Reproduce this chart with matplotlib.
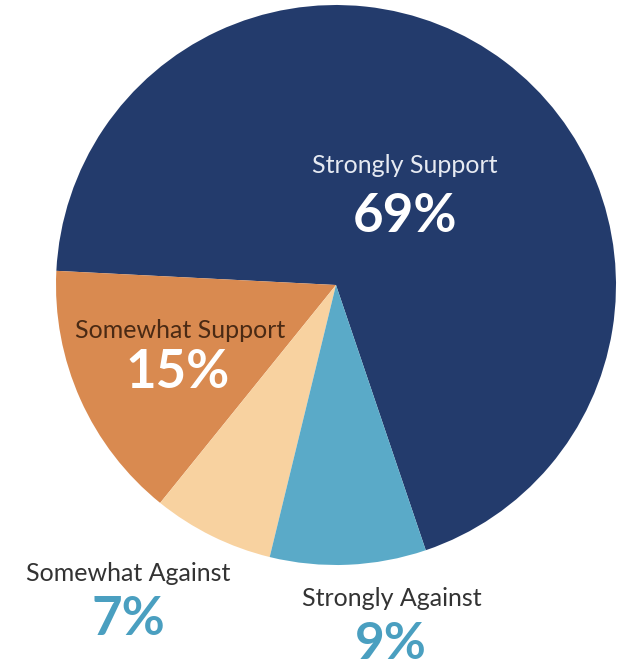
import matplotlib.pyplot as plt

labels = ["Strongly Support", "Somewhat Support", "Somewhat Against", "Strongly Against"]
values = [69, 15, 7, 9]
colors = ["#233b6c", "#d98a50", "#f8d2a0", "#5aaac8"]

plt.rcParams['font.family'] = ['Lato', 'DejaVu Sans']

fig = plt.figure(figsize=(6.24, 6.67), dpi=100)
ax = fig.add_axes([0, 0, 1, 1])

ax.pie(values, colors=colors, startangle=-71.3, counterclock=True,
       center=(336, 382), radius=280, frame=True,
       wedgeprops=dict(linewidth=0))
ax.set_xlim(0, 624)
ax.set_ylim(0, 667)
ax.axis('off')

# labels inside the pie
ax.text(405, 494, labels[0], color="#e6eaf2", fontsize=18, ha='center', va='baseline')
ax.text(405, 435, f"{values[0]}%", color="white", fontsize=38, fontweight='bold',
        ha='center', va='baseline')
ax.text(180, 329, labels[1], color="#4a2a14", fontsize=18, ha='center', va='baseline')
ax.text(178, 279, f"{values[1]}%", color="white", fontsize=38, fontweight='bold',
        ha='center', va='baseline')

# labels outside
ax.text(128, 86, labels[2], color="#333333", fontsize=18, ha='center', va='baseline')
ax.text(128, 32, f"{values[2]}%", color="#4a9fc0", fontsize=38, fontweight='bold',
        ha='center', va='baseline')
ax.text(392, 61, labels[3], color="#333333", fontsize=18, ha='center', va='baseline')
ax.text(391, 8, f"{values[3]}%", color="#4a9fc0", fontsize=37, fontweight='bold',
        ha='center', va='baseline')

fig.savefig("out.png", dpi=100)
